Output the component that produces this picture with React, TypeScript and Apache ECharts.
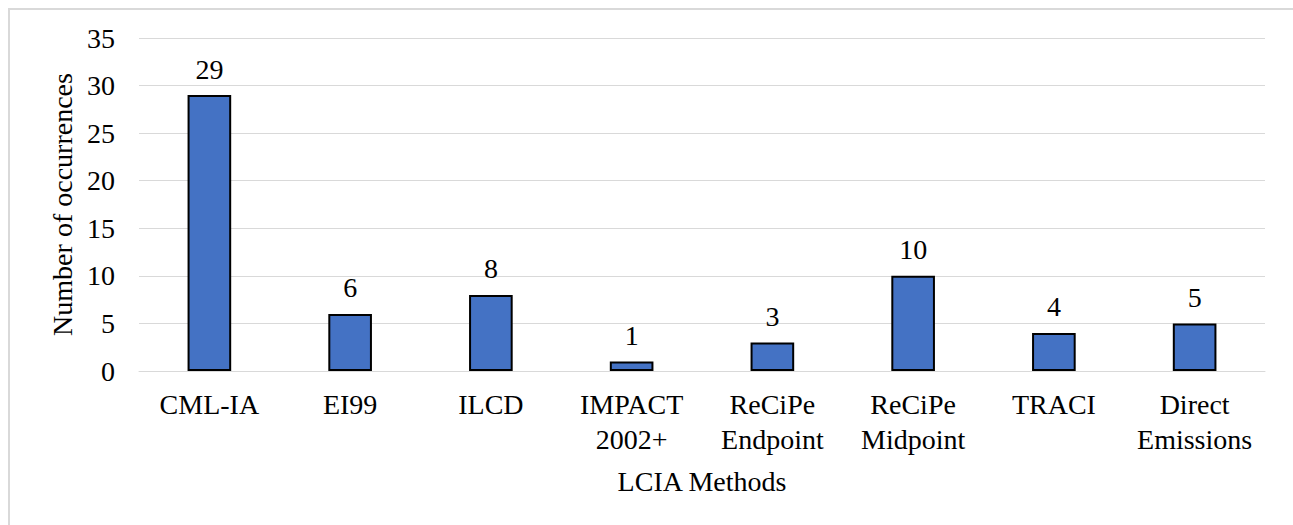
import React, { useEffect, useRef } from "react";
import * as echarts from "echarts";

const categories = [
  "CML-IA",
  "EI99",
  "ILCD",
  "IMPACT\n2002+",
  "ReCiPe\nEndpoint",
  "ReCiPe\nMidpoint",
  "TRACI",
  "Direct\nEmissions",
];
const occurrences = [29, 6, 8, 1, 3, 10, 4, 5];
const yMin = 0;
const yMax = 35;
const yStep = 5;

const FONT = "Liberation Serif, Times New Roman, serif";

export default function App() {
  const ref = useRef<HTMLDivElement>(null);
  useEffect(() => {
    if (!ref.current) return;
    const chart = echarts.init(ref.current, undefined, { renderer: "svg" });
    chart.setOption({
      animation: false,
      backgroundColor: "#ffffff",
      textStyle: { fontFamily: FONT },
      grid: { left: 129, right: 28, top: 28, bottom: 154, containLabel: false },
      xAxis: {
        type: "category",
        data: categories,
        name: "LCIA Methods",
        nameLocation: "middle",
        nameGap: 96,
        nameTextStyle: { fontFamily: FONT, fontSize: 28, color: "#000" },
        axisLine: { show: true, lineStyle: { color: "#d9d9d9", width: 1 } },
        axisTick: { show: false },
        axisLabel: {
          fontFamily: FONT,
          fontSize: 28,
          color: "#000",
          margin: 16,
          lineHeight: 35,
          interval: 0,
        },
      },
      yAxis: {
        type: "value",
        min: yMin,
        max: yMax,
        interval: yStep,
        name: "Number of occurrences",
        nameLocation: "middle",
        nameGap: 60,
        nameRotate: 90,
        nameTextStyle: { fontFamily: FONT, fontSize: 28, color: "#000" },
        axisLine: { show: false },
        axisTick: { show: false },
        axisLabel: { fontFamily: FONT, fontSize: 28, color: "#000", margin: 24 },
        splitLine: { show: true, lineStyle: { color: "#d9d9d9", width: 1 } },
      },
      series: [
        {
          type: "bar",
          data: occurrences,
          barWidth: "31%",
          itemStyle: { color: "#4472C4", borderColor: "#000", borderWidth: 2 },
          label: {
            show: true,
            position: "top",
            distance: 12,
            fontFamily: FONT,
            fontSize: 28,
            color: "#000",
          },
        },
      ],
    });
    return () => chart.dispose();
  }, []);
  return (
    <div
      style={{
        position: "absolute",
        left: 8,
        top: 8,
        width: 1285,
        height: 517,
        borderLeft: "2px solid #d9d9d9",
        borderTop: "2px solid #d9d9d9",
        boxSizing: "border-box",
        background: "#fff",
        overflow: "hidden",
      }}
    >
      <div ref={ref} style={{ width: 1283, height: 515 }} />
    </div>
  );
}
